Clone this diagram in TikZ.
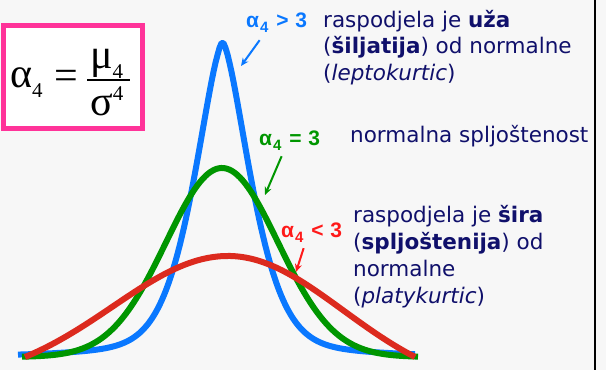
\documentclass[tikz,border=0pt]{standalone}
\usepackage{fontspec}
\setmainfont{DejaVu Sans}
\newfontfamily\formulafont{Liberation Serif}
\newfontfamily\oznakafont{Liberation Sans}
\usetikzlibrary{arrows.meta}
\definecolor{plava}{HTML}{0A78FF}
\definecolor{zelena}{HTML}{009600}
\definecolor{crvena}{HTML}{DC2A1E}
\definecolor{crvenaoznaka}{HTML}{FF1A1A}
\definecolor{ruzicasta}{HTML}{FF3399}
\definecolor{tamnoplava}{HTML}{10106B}
\definecolor{pozadina}{HTML}{F7F7F7}
\newcommand{\dolje}[1]{\raisebox{-10pt}{\fontsize{21}{21}\selectfont #1}}
\newcommand{\gore}[1]{\raisebox{15pt}{\fontsize{21}{21}\selectfont #1}}
\newcommand{\indeks}[1]{\raisebox{-5pt}{\fontsize{15}{15}\selectfont #1}}
\tikzset{
  opis/.style={font=\fontsize{21.5}{24}\selectfont, text=tamnoplava, inner sep=0pt, anchor=base west},
  oznaka/.style={font=\oznakafont\bfseries\fontsize{21}{22}\selectfont, inner sep=0pt, anchor=base west},
  formula/.style={font=\formulafont\fontsize{42}{42}\selectfont, inner sep=0pt},
  krivulja/.style={line width=6pt, line join=round},
  strelica/.style={line width=2pt, -{Stealth[length=8pt,width=7pt]}},
}

\begin{document}
\begin{tikzpicture}[x=1pt,y=-1pt]
            \useasboundingbox (0,0) rectangle (606,370);
            \fill[pozadina] (0,0) rectangle (606,370);
            \draw[line width=2pt] (595,0) -- (595,370);

            % formula
            \draw[ruzicasta, line width=5pt, fill=white] (3.5,25.5) rectangle (142.5,128.5);
            \node[formula, anchor=base west] (alfa) at (10,87) {α\dolje{4}};
            \node[formula] (jednako) at (66,80) {=};
            \node[formula, anchor=base west] (mi) at (90,68) {μ\dolje{4}};
            \node[formula, anchor=base west] (sigma) at (90,115) {σ\gore{4}};
            \draw[line width=2pt] (87,80) -- (130,80);

            % krivulje
            \def\Dl{203}
            \def\Dr{187}
            \draw[krivulja, plava] plot[domain=18:415, samples=200]
                (\x, {356-302*exp(-pow((abs(\x-222.5)+0.01)/40,1.52))-12*exp(-((\x-222.5)/140)^2)});
            \draw[krivulja, zelena] plot[domain=22:418, samples=150]
                (\x, {357-189*exp(-((\x-222)/56)^2/2)});
            \draw[krivulja, crvena] plot[domain=25:228, samples=80]
                (\x, {357-101*(exp(-((\x-228)/115)^2/2)-exp(-(\Dl/115)^2/2))/(1-exp(-(\Dl/115)^2/2))})
                -- plot[domain=228:415, samples=80]
                (\x, {357-101*(exp(-((\x-228)/115)^2/2)-exp(-(\Dr/115)^2/2))/(1-exp(-(\Dr/115)^2/2))});

            %labels
            \node[oznaka, text=plava] (lplava) at (246,27) {α\kern1pt\indeks{4}\kern2pt{} > \kern1pt3};
            \node[oznaka, text=zelena] (lzelena) at (259,145) {α\kern1pt\indeks{4}\kern2pt{} = \kern1pt3};
            \node[oznaka, text=crvenaoznaka] (lcrvena) at (281,237) {α\kern1pt\indeks{4}\kern2pt{} < \kern1pt3};

            \coordinate (vrhplava) at (241,66);
            \coordinate (vrhzelena) at (265,195);
            \coordinate (vrhcrvena) at (296,272);
            \draw[strelica, plava] ([xshift=-17pt,yshift=-8pt]lplava.south) -- (vrhplava);
            \draw[strelica, zelena] ([xshift=-8pt,yshift=-6pt]lzelena.south) -- (vrhzelena);
            \draw[strelica, crvenaoznaka] ([xshift=-8pt,yshift=-6pt]lcrvena.south) -- (vrhcrvena);

            \foreach \ln [count=\i from 0] in {raspodjela je \textbf{uža}, (\textbf{šiljatija}) od normalne, (\textit{leptokurtic})}
                \node[opis] (lepto\i) at (323,{27+26.5*\i}) {\ln};
            \node[opis] (normalna) at (350,142) {normalna spljoštenost};
            \foreach \ln [count=\i from 0] in {raspodjela je \textbf{šira}, (\textbf{spljoštenija}) od, normalne, (\textit{platykurtic})}
                \node[opis] (platy\i) at (353,{222+27.3*\i}) {\ln};
\end{tikzpicture}
\end{document}
